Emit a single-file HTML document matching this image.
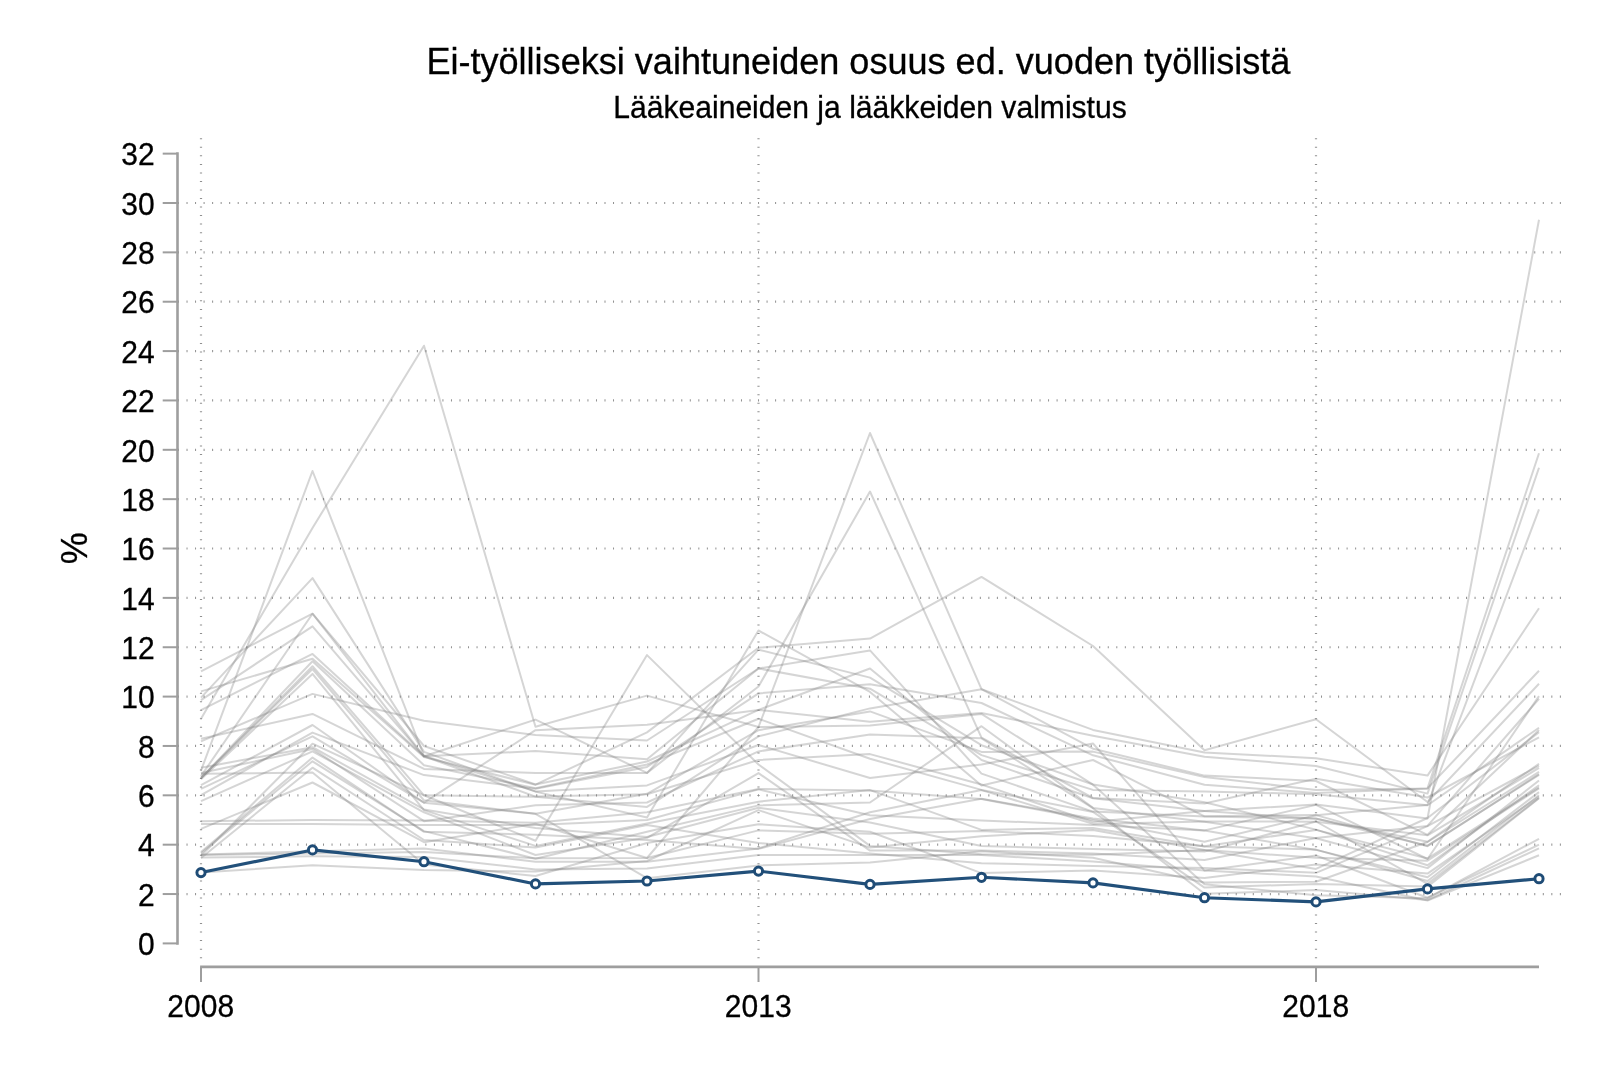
<!DOCTYPE html>
<html lang="fi"><head><meta charset="utf-8"><title>Ei-työlliseksi vaihtuneiden osuus</title>
<style>
html,body{margin:0;padding:0;background:#fff;}
body{width:1600px;height:1067px;overflow:hidden;}
svg{display:block;will-change:transform;}
text{font-family:"Liberation Sans",Arial,Helvetica,sans-serif;fill:#000;stroke:#000;stroke-width:.3px;}
.ax{stroke:#9e9e9e;stroke-width:2.6;fill:none;stroke-linecap:butt;}
.tk{stroke:#9e9e9e;stroke-width:2;fill:none;}
.gh{stroke:#909090;stroke-width:2.2;stroke-dasharray:1 7.53;fill:none;}
.gv{stroke:#909090;stroke-width:2.2;stroke-dasharray:1 7.53;fill:none;}
.g{stroke:#808080;stroke-opacity:.33;stroke-width:2;fill:none;stroke-linejoin:round;}
.b{stroke:#22507a;stroke-width:3.1;fill:none;stroke-linejoin:round;}
.m{stroke:#1f4c76;stroke-width:3;fill:#fff;}
.lab{font-size:30px;}
</style></head><body>
<svg width="1600" height="1067" viewBox="0 0 1600 1067">
<rect x="0" y="0" width="1600" height="1067" fill="#ffffff"/>
<text transform="translate(858.4 73.8) scale(1 1.035)" font-size="36.1" text-anchor="middle" textLength="864" lengthAdjust="spacingAndGlyphs">Ei-työlliseksi vaihtuneiden osuus ed. vuoden työllisistä</text>
<text transform="translate(870 118.2) scale(1 1.035)" font-size="30" text-anchor="middle" textLength="513.5" lengthAdjust="spacingAndGlyphs">Lääkeaineiden ja lääkkeiden valmistus</text>
<g class="gh">
<path d="M178 894.04H1562"/>
<path d="M178 844.68H1562"/>
<path d="M178 795.32H1562"/>
<path d="M178 745.96H1562"/>
<path d="M178 696.60H1562"/>
<path d="M178 647.24H1562"/>
<path d="M178 597.88H1562"/>
<path d="M178 548.52H1562"/>
<path d="M178 499.16H1562"/>
<path d="M178 449.80H1562"/>
<path d="M178 400.44H1562"/>
<path d="M178 351.08H1562"/>
<path d="M178 301.72H1562"/>
<path d="M178 252.36H1562"/>
<path d="M178 203.00H1562"/>
</g>
<g class="gv">
<path d="M201.00 138.3V960"/>
<path d="M758.50 138.3V960"/>
<path d="M1316.00 138.3V960"/>
</g>
<g class="g">
<polyline points="201.0,671.4 312.5,613.7 424.0,756.3 535.5,719.6 647.0,772.9 758.5,686.5 870.0,491.5 981.5,737.6 1093.0,798.0 1204.5,803.5 1316.0,778.8 1427.5,797.5 1539.0,737.3"/>
<polyline points="201.0,691.4 312.5,658.8 424.0,757.1 535.5,784.7 647.0,732.4 758.5,647.7 870.0,638.6 981.5,576.9 1093.0,646.0 1204.5,750.2 1316.0,719.3 1427.5,802.0 1539.0,683.8"/>
<polyline points="201.0,697.6 312.5,578.1 424.0,751.9 535.5,791.6 647.0,817.5 758.5,630.5 870.0,691.9 981.5,785.4 1093.0,760.0 1204.5,816.3 1316.0,815.1 1427.5,846.2 1539.0,774.1"/>
<polyline points="201.0,700.1 312.5,626.3 424.0,756.3 535.5,751.1 647.0,759.3 758.5,668.5 870.0,688.7 981.5,755.1 1093.0,789.9 1204.5,791.4 1316.0,794.3 1427.5,805.2 1539.0,727.7"/>
<polyline points="201.0,710.2 312.5,653.9 424.0,756.3 535.5,796.6 647.0,794.3 758.5,760.0 870.0,754.1 981.5,784.5 1093.0,822.0 1204.5,810.9 1316.0,804.5 1427.5,818.5 1539.0,219.8"/>
<polyline points="201.0,718.8 312.5,528.0 424.0,345.7 535.5,726.7 647.0,695.6 758.5,727.0 870.0,433.0 981.5,689.2 1093.0,748.7 1204.5,775.6 1316.0,781.0 1427.5,834.8 1539.0,729.9"/>
<polyline points="201.0,738.8 312.5,713.9 424.0,768.9 535.5,772.9 647.0,773.1 758.5,649.7 870.0,677.6 981.5,745.2 1093.0,784.5 1204.5,802.2 1316.0,829.6 1427.5,865.2 1539.0,785.2"/>
<polyline points="201.0,741.3 312.5,693.9 424.0,720.8 535.5,734.9 647.0,740.5 758.5,668.5 870.0,650.4 981.5,773.6 1093.0,811.6 1204.5,816.5 1316.0,818.5 1427.5,845.7 1539.0,774.8"/>
<polyline points="201.0,767.7 312.5,747.2 424.0,809.4 535.5,828.1 647.0,837.0 758.5,807.7 870.0,822.5 981.5,845.9 1093.0,849.1 1204.5,851.6 1316.0,821.5 1427.5,883.9 1539.0,798.0"/>
<polyline points="201.0,770.6 312.5,471.0 424.0,755.8 535.5,791.4 647.0,785.4 758.5,745.0 870.0,778.0 981.5,764.5 1093.0,743.5 1204.5,870.6 1316.0,855.5 1427.5,897.7 1539.0,844.7"/>
<polyline points="201.0,773.1 312.5,748.9 424.0,821.2 535.5,805.2 647.0,802.5 758.5,751.4 870.0,734.6 981.5,738.3 1093.0,808.2 1204.5,893.8 1316.0,890.1 1427.5,900.0 1539.0,848.4"/>
<polyline points="201.0,773.8 312.5,772.6 424.0,864.4 535.5,876.0 647.0,843.0 758.5,824.2 870.0,831.8 981.5,873.1 1093.0,870.6 1204.5,878.0 1316.0,864.4 1427.5,873.6 1539.0,796.6"/>
<polyline points="201.0,776.1 312.5,613.7 424.0,746.0 535.5,784.5 647.0,761.5 758.5,709.9 870.0,721.8 981.5,712.9 1093.0,735.8 1204.5,756.8 1316.0,766.0 1427.5,793.6 1539.0,467.8"/>
<polyline points="201.0,778.0 312.5,661.3 424.0,765.2 535.5,788.2 647.0,764.5 758.5,718.8 870.0,758.8 981.5,789.9 1093.0,811.9 1204.5,887.6 1316.0,883.9 1427.5,886.6 1539.0,798.3"/>
<polyline points="201.0,778.0 312.5,666.2 424.0,795.3 535.5,840.7 647.0,655.1 758.5,764.5 870.0,845.9 981.5,854.3 1093.0,854.8 1204.5,850.1 1316.0,868.9 1427.5,818.0 1539.0,732.1"/>
<polyline points="201.0,778.0 312.5,669.0 424.0,800.3 535.5,813.8 647.0,793.8 758.5,730.2 870.0,711.4 981.5,751.9 1093.0,751.6 1204.5,777.1 1316.0,789.9 1427.5,788.4 1539.0,453.3"/>
<polyline points="201.0,779.3 312.5,673.9 424.0,810.1 535.5,845.9 647.0,823.5 758.5,801.7 870.0,790.1 981.5,829.9 1093.0,828.1 1204.5,846.4 1316.0,849.6 1427.5,881.0 1539.0,795.3"/>
<polyline points="201.0,785.2 312.5,725.0 424.0,802.7 535.5,813.8 647.0,878.2 758.5,865.4 870.0,862.4 981.5,851.3 1093.0,857.8 1204.5,882.4 1316.0,881.7 1427.5,842.0 1539.0,771.9"/>
<polyline points="201.0,788.9 312.5,736.3 424.0,802.7 535.5,730.2 647.0,724.7 758.5,709.9 870.0,668.5 981.5,760.0 1093.0,798.3 1204.5,811.1 1316.0,818.8 1427.5,841.7 1539.0,763.7"/>
<polyline points="201.0,795.1 312.5,732.6 424.0,775.1 535.5,788.7 647.0,766.9 758.5,693.4 870.0,684.3 981.5,703.0 1093.0,755.3 1204.5,784.7 1316.0,792.9 1427.5,788.4 1539.0,670.7"/>
<polyline points="201.0,801.2 312.5,751.4 424.0,812.3 535.5,855.0 647.0,837.8 758.5,773.1 870.0,850.6 981.5,850.6 1093.0,853.6 1204.5,860.0 1316.0,838.0 1427.5,825.9 1539.0,698.8"/>
<polyline points="201.0,821.2 312.5,820.0 424.0,820.5 535.5,822.7 647.0,812.3 758.5,788.9 870.0,790.6 981.5,799.0 1093.0,820.0 1204.5,841.7 1316.0,815.3 1427.5,804.9 1539.0,509.3"/>
<polyline points="201.0,823.9 312.5,823.9 424.0,824.9 535.5,824.9 647.0,820.0 758.5,789.4 870.0,815.3 981.5,820.5 1093.0,824.9 1204.5,830.6 1316.0,849.9 1427.5,877.3 1539.0,792.1"/>
<polyline points="201.0,828.9 312.5,782.5 424.0,842.2 535.5,823.7 647.0,858.0 758.5,727.0 870.0,725.5 981.5,713.9 1093.0,784.7 1204.5,884.2 1316.0,895.3 1427.5,898.2 1539.0,838.8"/>
<polyline points="201.0,852.1 312.5,757.6 424.0,831.8 535.5,834.8 647.0,840.0 758.5,848.9 870.0,819.0 981.5,798.8 1093.0,818.5 1204.5,830.4 1316.0,804.9 1427.5,859.0 1539.0,696.1"/>
<polyline points="201.0,853.3 312.5,761.3 424.0,831.1 535.5,858.7 647.0,831.8 758.5,805.4 870.0,802.5 981.5,726.2 1093.0,807.9 1204.5,821.7 1316.0,838.3 1427.5,868.1 1539.0,780.5"/>
<polyline points="201.0,854.6 312.5,851.3 424.0,848.4 535.5,861.7 647.0,861.7 758.5,848.4 870.0,812.3 981.5,790.1 1093.0,823.9 1204.5,821.5 1316.0,821.7 1427.5,835.3 1539.0,767.9"/>
<polyline points="201.0,855.0 312.5,853.6 424.0,852.1 535.5,858.3 647.0,858.0 758.5,830.4 870.0,833.8 981.5,831.1 1093.0,836.0 1204.5,846.2 1316.0,829.9 1427.5,858.5 1539.0,787.4"/>
<polyline points="201.0,855.8 312.5,743.7 424.0,795.3 535.5,796.8 647.0,806.9 758.5,736.3 870.0,708.4 981.5,689.2 1093.0,729.9 1204.5,752.4 1316.0,758.3 1427.5,775.6 1539.0,608.2"/>
<polyline points="201.0,857.5 312.5,856.3 424.0,857.0 535.5,869.4 647.0,868.6 758.5,855.0 870.0,855.0 981.5,855.0 1093.0,861.5 1204.5,870.6 1316.0,876.5 1427.5,900.5 1539.0,855.3"/>
<polyline points="201.0,858.0 312.5,767.7 424.0,840.0 535.5,847.6 647.0,824.9 758.5,843.0 870.0,853.6 981.5,863.2 1093.0,865.9 1204.5,868.1 1316.0,872.8 1427.5,826.2 1539.0,765.7"/>
<polyline points="201.0,872.6 312.5,865.2 424.0,870.1 535.5,871.6 647.0,861.0 758.5,810.1 870.0,847.6 981.5,836.3 1093.0,829.9 1204.5,849.9 1316.0,857.8 1427.5,860.7 1539.0,788.4"/>
</g>
<polyline class="b" points="201.0,872.6 312.5,849.9 424.0,861.7 535.5,883.9 647.0,881.0 758.5,871.1 870.0,884.4 981.5,877.3 1093.0,882.9 1204.5,897.7 1316.0,901.9 1427.5,888.9 1539.0,878.7"/>
<g class="m">
<circle cx="201.0" cy="872.6" r="4.1"/>
<circle cx="312.5" cy="849.9" r="4.1"/>
<circle cx="424.0" cy="861.7" r="4.1"/>
<circle cx="535.5" cy="883.9" r="4.1"/>
<circle cx="647.0" cy="881.0" r="4.1"/>
<circle cx="758.5" cy="871.1" r="4.1"/>
<circle cx="870.0" cy="884.4" r="4.1"/>
<circle cx="981.5" cy="877.3" r="4.1"/>
<circle cx="1093.0" cy="882.9" r="4.1"/>
<circle cx="1204.5" cy="897.7" r="4.1"/>
<circle cx="1316.0" cy="901.9" r="4.1"/>
<circle cx="1427.5" cy="888.9" r="4.1"/>
<circle cx="1539.0" cy="878.7" r="4.1"/>
</g>
<path class="ax" d="M177.5 152.34V944.70"/>
<path class="tk" d="M162.7 943.40H177.5"/>
<text class="lab" transform="translate(154.6 955.15) scale(1 1.025)" text-anchor="end">0</text>
<path class="tk" d="M162.7 894.04H177.5"/>
<text class="lab" transform="translate(154.6 905.79) scale(1 1.025)" text-anchor="end">2</text>
<path class="tk" d="M162.7 844.68H177.5"/>
<text class="lab" transform="translate(154.6 856.43) scale(1 1.025)" text-anchor="end">4</text>
<path class="tk" d="M162.7 795.32H177.5"/>
<text class="lab" transform="translate(154.6 807.07) scale(1 1.025)" text-anchor="end">6</text>
<path class="tk" d="M162.7 745.96H177.5"/>
<text class="lab" transform="translate(154.6 757.71) scale(1 1.025)" text-anchor="end">8</text>
<path class="tk" d="M162.7 696.60H177.5"/>
<text class="lab" transform="translate(154.6 708.35) scale(1 1.025)" text-anchor="end">10</text>
<path class="tk" d="M162.7 647.24H177.5"/>
<text class="lab" transform="translate(154.6 658.99) scale(1 1.025)" text-anchor="end">12</text>
<path class="tk" d="M162.7 597.88H177.5"/>
<text class="lab" transform="translate(154.6 609.63) scale(1 1.025)" text-anchor="end">14</text>
<path class="tk" d="M162.7 548.52H177.5"/>
<text class="lab" transform="translate(154.6 560.27) scale(1 1.025)" text-anchor="end">16</text>
<path class="tk" d="M162.7 499.16H177.5"/>
<text class="lab" transform="translate(154.6 510.91) scale(1 1.025)" text-anchor="end">18</text>
<path class="tk" d="M162.7 449.80H177.5"/>
<text class="lab" transform="translate(154.6 461.55) scale(1 1.025)" text-anchor="end">20</text>
<path class="tk" d="M162.7 400.44H177.5"/>
<text class="lab" transform="translate(154.6 412.19) scale(1 1.025)" text-anchor="end">22</text>
<path class="tk" d="M162.7 351.08H177.5"/>
<text class="lab" transform="translate(154.6 362.83) scale(1 1.025)" text-anchor="end">24</text>
<path class="tk" d="M162.7 301.72H177.5"/>
<text class="lab" transform="translate(154.6 313.47) scale(1 1.025)" text-anchor="end">26</text>
<path class="tk" d="M162.7 252.36H177.5"/>
<text class="lab" transform="translate(154.6 264.11) scale(1 1.025)" text-anchor="end">28</text>
<path class="tk" d="M162.7 203.00H177.5"/>
<text class="lab" transform="translate(154.6 214.75) scale(1 1.025)" text-anchor="end">30</text>
<path class="tk" d="M162.7 153.64H177.5"/>
<text class="lab" transform="translate(154.6 165.39) scale(1 1.025)" text-anchor="end">32</text>
<path class="ax" d="M200.1 966.9H1539"/>
<path class="tk" d="M201.00 966.9V982"/>
<text class="lab" transform="translate(200.70 1016.5) scale(1 1.025)" text-anchor="middle">2008</text>
<path class="tk" d="M758.50 966.9V982"/>
<text class="lab" transform="translate(758.20 1016.5) scale(1 1.025)" text-anchor="middle">2013</text>
<path class="tk" d="M1316.00 966.9V982"/>
<text class="lab" transform="translate(1315.70 1016.5) scale(1 1.025)" text-anchor="middle">2018</text>
<text transform="translate(87 548.3) rotate(-90) scale(1 1.04)" font-size="36" text-anchor="middle">%</text>
</svg>
</body></html>
